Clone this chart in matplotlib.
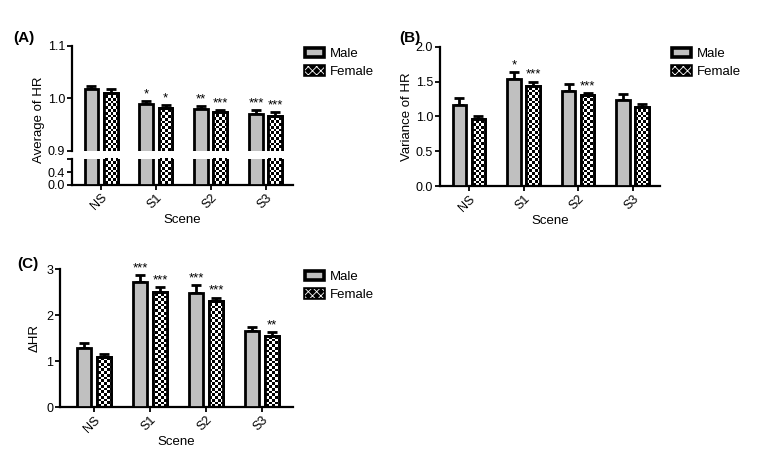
import matplotlib
matplotlib.use('Agg')
import matplotlib.pyplot as plt
from matplotlib.patches import Patch
from matplotlib.legend_handler import HandlerTuple
import numpy as np

plt.rcParams['font.family'] = ['Liberation Sans', 'DejaVu Sans']
plt.rcParams['hatch.linewidth'] = 0.6

scenes = ['NS', 'S1', 'S2', 'S3']

# (A) average of HR
avg_male = [1.017, 0.989, 0.979, 0.970]
avg_male_err = [0.006, 0.006, 0.007, 0.008]
avg_female = [1.011, 0.982, 0.973, 0.966]
avg_female_err = [0.006, 0.006, 0.005, 0.008]
avg_male_sig = ['', '*', '**', '***']
avg_female_sig = ['', '*', '***', '***']

# (B) variance of HR
var_male = [1.16, 1.54, 1.36, 1.24]
var_male_err = [0.10, 0.10, 0.10, 0.08]
var_female = [0.96, 1.44, 1.30, 1.13]
var_female_err = [0.05, 0.06, 0.04, 0.05]
var_male_sig = ['', '*', '', '']
var_female_sig = ['', '***', '***', '']

# (C) delta HR
d_male = [1.29, 2.72, 2.47, 1.65]
d_male_err = [0.11, 0.14, 0.19, 0.10]
d_female = [1.09, 2.51, 2.30, 1.55]
d_female_err = [0.06, 0.10, 0.08, 0.08]
d_male_sig = ['', '***', '***', '']
d_female_sig = ['', '***', '***', '**']

GREY = '#c0c0c0'
BAR_W = 0.25
OFF = 0.175
EDGE_LW = 2.0

W, H = 772, 454
fig = plt.figure(figsize=(W / 100, H / 100), dpi=100)


def px_axes(left, top, right, bottom):
    return fig.add_axes([left / W, 1 - bottom / H, (right - left) / W, (bottom - top) / H])


def style_axis(ax):
    for s in ['top', 'right']:
        ax.spines[s].set_visible(False)
    for s in ['left', 'bottom']:
        ax.spines[s].set_linewidth(1.6)
    ax.tick_params(direction='out', length=3.5, width=1.3, labelsize=9, pad=1.5)


def checker(ax, bar):
    # checkerboard fill clipped to one bar
    x0, x1 = ax.get_xlim()
    y0, y1 = ax.get_ylim()
    nx = max(int(ax.bbox.width / 2.7), 2)
    ny = max(int(ax.bbox.height / 2.7), 2)
    board = (np.add.outer(np.arange(ny), np.arange(nx)) % 2).astype(float)
    im = ax.imshow(board, cmap='gray', extent=(x0, x1, y0, y1), aspect='auto',
                   interpolation='nearest', zorder=2.5, vmin=0, vmax=1)
    im.set_clip_path(bar)
    ax.set_xlim(x0, x1)
    ax.set_ylim(y0, y1)


def draw_bars(ax, male, male_err, female, female_err, male_sig=None, female_sig=None, errs=True):
    x = np.arange(len(scenes))
    ax.bar(x - OFF, male, BAR_W, color=GREY, edgecolor='black', linewidth=EDGE_LW, zorder=3)
    fbars = ax.bar(x + OFF, female, BAR_W, color='white', edgecolor='black', linewidth=EDGE_LW, zorder=2)
    for b in fbars:
        checker(ax, b)
    ax.bar(x + OFF, female, BAR_W, color='none', edgecolor='black', linewidth=EDGE_LW, zorder=3)
    if not errs:
        return
    for pos, vals, err, sig in [(x - OFF, male, male_err, male_sig), (x + OFF, female, female_err, female_sig)]:
        ax.errorbar(pos, vals, yerr=[np.zeros(len(vals)), err], fmt='none', ecolor='black',
                    elinewidth=2.0, capsize=3.8, capthick=2.0, zorder=2.8)
        for xi, v, e, s in zip(pos, vals, err, sig):
            if s:
                ax.annotate(s, (xi, v + e), xytext=(0, 0.5), textcoords='offset points',
                            ha='center', va='bottom', fontsize=9.5)


def set_xaxis(ax, left_pad, right_pad):
    ax.set_xlim(-left_pad, len(scenes) - 1 + right_pad)
    ax.set_xticks(np.arange(len(scenes)))
    ax.set_xticklabels(scenes, rotation=45, ha='right', rotation_mode='anchor', fontsize=9)
    ax.set_xlabel('Scene', fontsize=9.5, labelpad=1)


def add_legend(ax, x, y):
    male_h = Patch(facecolor=GREY, edgecolor='black', linewidth=2.6)
    female_h = (Patch(facecolor='black', edgecolor='black', linewidth=2.6),
                Patch(facecolor='none', edgecolor='white', linewidth=0, hatch='xxxx'))
    ax.legend(handles=[male_h, female_h], labels=['Male', 'Female'],
              handler_map={tuple: HandlerTuple(ndivide=1, pad=0)},
              loc='upper left', bbox_to_anchor=(x / W, 1 - y / H),
              bbox_transform=fig.transFigure, frameon=False, fontsize=9.5,
              handlelength=1.45, handleheight=0.7, labelspacing=0.4, handletextpad=0.45,
              borderpad=0, borderaxespad=0)


# ---- (A) with broken y axis ----
axA = px_axes(72, 46, 293, 150.7)
axA2 = px_axes(72, 159, 293, 184.5)
for ax in (axA, axA2):
    style_axis(ax)
    ax.set_xlim(-0.53, 3.5)
axA.set_ylim(0.9, 1.1)
axA2.set_ylim(0, 0.83)
draw_bars(axA, avg_male, avg_male_err, avg_female, avg_female_err, avg_male_sig, avg_female_sig)
draw_bars(axA2, avg_male, avg_male_err, avg_female, avg_female_err, errs=False)
axA.spines['bottom'].set_visible(False)
axA.tick_params(axis='x', bottom=False, labelbottom=False)
axA.set_yticks([0.9, 1.0, 1.1])
axA.set_yticklabels(['0.9', '1.0', '1.1'])
axA2.set_yticks([0, 0.4, 0.83])
axA2.set_yticklabels(['0.0', '0.4', ''])
set_xaxis(axA2, 0.53, 0.5)
axA.set_xlim(axA2.get_xlim())
axA.set_ylabel('Average of HR', fontsize=9.5, labelpad=2)
axA.yaxis.set_label_coords(-0.12, 0.3)
add_legend(axA, 305, 48)
fig.text(13 / W, 1 - 38 / H, '(A)', fontsize=11, fontweight='bold', va='center')

# ---- (B) ----
axB = px_axes(440, 46.7, 660, 186)
style_axis(axB)
axB.set_xlim(-0.53, 3.5)
axB.set_ylim(0, 2.0)
draw_bars(axB, var_male, var_male_err, var_female, var_female_err, var_male_sig, var_female_sig)
set_xaxis(axB, 0.53, 0.5)
axB.set_yticks([0, 0.5, 1.0, 1.5, 2.0])
axB.set_yticklabels(['0.0', '0.5', '1.0', '1.5', '2.0'])
axB.set_ylabel('Variance of HR', fontsize=9.5, labelpad=2)
add_legend(axB, 672, 48)
fig.text(399 / W, 1 - 38 / H, '(B)', fontsize=11, fontweight='bold', va='center')

# ---- (C) ----
axC = px_axes(60, 269, 293, 407.3)
style_axis(axC)
axC.set_xlim(-0.61, 3.55)
axC.set_ylim(0, 3)
draw_bars(axC, d_male, d_male_err, d_female, d_female_err, d_male_sig, d_female_sig)
set_xaxis(axC, 0.61, 0.55)
axC.set_yticks([0, 1, 2, 3])
axC.set_ylabel('ΔHR', fontsize=9.5, labelpad=4)
add_legend(axC, 305, 271)
fig.text(17 / W, 1 - 264 / H, '(C)', fontsize=11, fontweight='bold', va='center')

fig.savefig('out.png', dpi=100)
